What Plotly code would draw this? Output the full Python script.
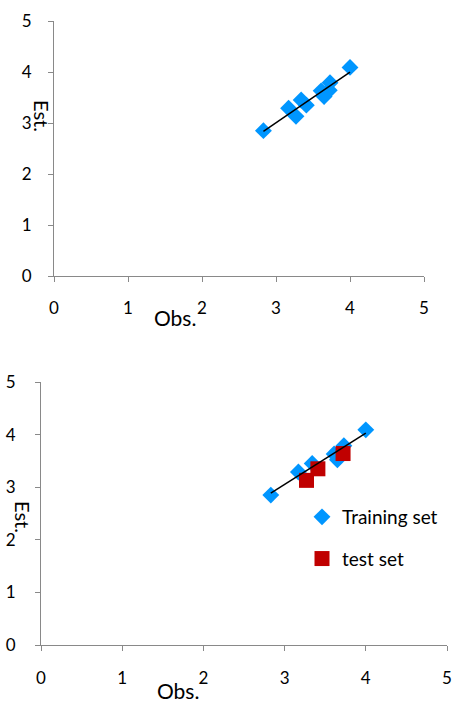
import numpy as np
import plotly.graph_objects as go

# ---- data ----
train_obs = [2.83, 3.17, 3.34, 3.61, 3.65, 3.73, 4.00]
train_est = [2.85, 3.29, 3.45, 3.63, 3.52, 3.79, 4.09]
test_obs = [3.27, 3.41, 3.72]
test_est = [3.13, 3.35, 3.64]
all_obs = train_obs + test_obs
all_est = train_est + test_est
tick_vals = [0, 1, 2, 3, 4, 5]
tick_text = ["0", "1", "2", "3", "4", "5"]

W, H = 455, 702
BLUE = "#0096FF"
RED = "#C00000"
AX = "#898989"
FONT = "Lato"


def px(x):
    return x / W


def py(y):
    return 1 - y / H


def trend(xs, ys):
    k, b = np.polyfit(xs, ys, 1)
    x0, x1 = min(xs), max(xs)
    return [x0, x1], [k * x0 + b, k * x1 + b]


fig = go.Figure()

# top chart: all points
fig.add_trace(go.Scatter(x=all_obs, y=all_est, mode="markers", xaxis="x", yaxis="y",
                         marker=dict(symbol="diamond", size=13, color=BLUE),
                         showlegend=False))
tx, ty = trend(all_obs, all_est)
fig.add_trace(go.Scatter(x=tx, y=ty, mode="lines", xaxis="x", yaxis="y",
                         line=dict(color="black", width=1.5), showlegend=False))

# bottom chart: training + test
fig.add_trace(go.Scatter(x=train_obs, y=train_est, mode="markers", xaxis="x2", yaxis="y2",
                         name="Training set", legendgroup="a",
                         marker=dict(symbol="diamond", size=13, color=BLUE)))
fig.add_trace(go.Scatter(x=test_obs, y=test_est, mode="markers", xaxis="x2", yaxis="y2",
                         name="test set", legendgroup="b",
                         marker=dict(symbol="square", size=15, color=RED)))
tx2, ty2 = trend(train_obs, train_est)
fig.add_trace(go.Scatter(x=tx2, y=ty2, mode="lines", xaxis="x2", yaxis="y2",
                         line=dict(color="black", width=1.5), showlegend=False))


def axis(domain, anchor, standoff):
    return dict(domain=domain, anchor=anchor, range=[0, 5], tickvals=tick_vals,
                ticktext=tick_text, showgrid=False, zeroline=False, showline=True,
                linecolor=AX, linewidth=1, ticks="outside", ticklen=5, tickcolor=AX,
                tickfont=dict(family=FONT, size=17, color="black"),
                ticklabelstandoff=standoff, automargin=False, fixedrange=True)


def label(text, x, y, angle=0, size=21):
    return dict(text=text, x=px(x), y=py(y), xref="paper", yref="paper",
                xanchor="center", yanchor="middle", showarrow=False,
                textangle=angle, font=dict(family=FONT, size=size, color="black"))


fig.update_layout(
    width=W, height=H,
    margin=dict(l=0, r=0, t=0, b=0),
    paper_bgcolor="white", plot_bgcolor="white",
    font=dict(family=FONT, color="black"),
    xaxis=axis([px(54), px(424)], "y", 12),
    yaxis=axis([py(276), py(21)], "x", 13),
    xaxis2=axis([px(41), px(447)], "y2", 13),
    yaxis2=axis([py(645), py(382)], "x2", 16),
    legend=dict(x=px(302), y=py(498), xanchor="left", yanchor="top",
                font=dict(family=FONT, size=19, color="black"),
                tracegroupgap=14, bgcolor="rgba(0,0,0,0)"),
    annotations=[
        label("Obs.", 175, 317),
        label("Est.", 42, 116, 90, 20),
        label("Obs.", 178, 690),
        label("Est.", 23, 517, 90, 20),
    ],
)

fig.write_html(
    "out.html",
    config={"displayModeBar": False},
    post_script="document.body.style.margin='0';document.body.style.overflow='hidden';",
)
